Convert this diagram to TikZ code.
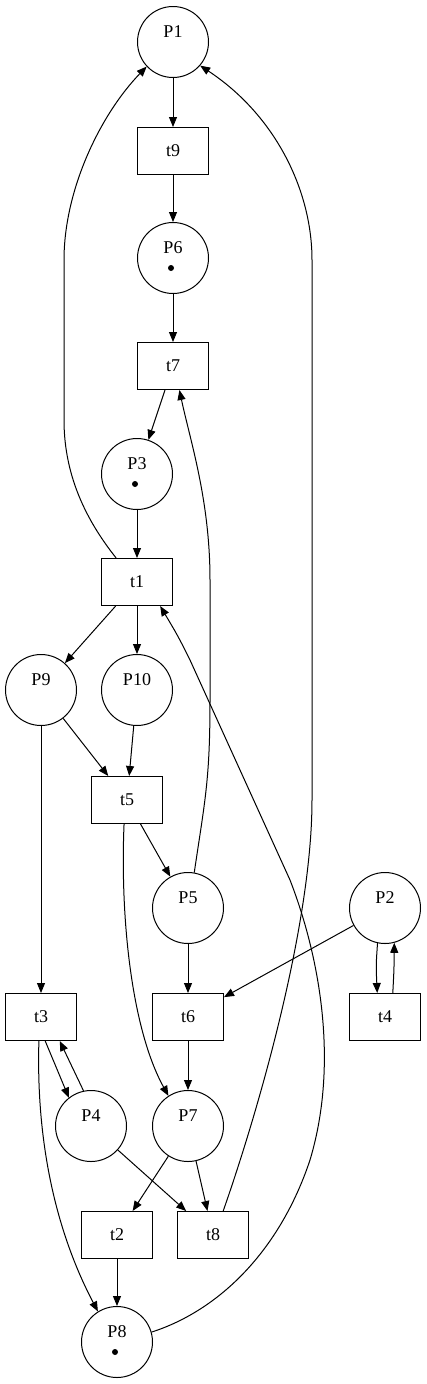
\documentclass[tikz,border=0pt]{standalone}
\usepackage{fontspec}
\setmainfont{Liberation Serif}
\usetikzlibrary{arrows.meta}
\tikzset{
	place/.style={circle, draw, line width=1pt, minimum size=71pt, inner sep=0pt},
	trans/.style={rectangle, draw, line width=1pt, minimum width=71pt, minimum height=47pt, inner sep=0pt},
	arc/.style={line width=1pt, -{Triangle[length=10pt,width=8pt]}}
}
\def\lbl#1{\raisebox{5pt}[0pt][0pt]{#1}}
\def\token(#1){\fill ([xshift=-2pt,yshift=-10pt]#1) circle (3pt);}

\begin{document}
\begin{tikzpicture}[x=1pt, y=-1pt, font=\fontsize{18}{21}\selectfont]
				\useasboundingbox (0,0) rectangle (427,1384);
				
				\node[place] (P1) at (173,42) {\lbl{P1}};
				\node[trans] (t9) at (173,151) {t9};
				\node[place] (P6) at (173,258) {\lbl{P6}};
				\node[trans] (t7) at (173,366) {t7};
				\node[place] (P3) at (137,474) {\lbl{P3}};
				\node[trans] (t1) at (137,582) {t1};
				\node[place] (P9) at (41,690) {\lbl{P9}};
				\node[place] (P10) at (137,690) {\lbl{P10}};
				\node[trans] (t5) at (127,800) {t5};
				\node[place] (P5) at (188,908) {\lbl{P5}};
				\node[place] (P2) at (385,908) {\lbl{P2}};
				\node[trans] (t3) at (41,1017) {t3};
				\node[trans] (t6) at (188,1017) {t6};
				\node[trans] (t4) at (385,1017) {t4};
				\node[place] (P4) at (91,1126) {\lbl{P4}};
				\node[place] (P7) at (188,1126) {\lbl{P7}};
				\node[trans] (t2) at (117,1235) {t2};
				\node[trans] (t8) at (213,1235) {t8};
				\node[place] (P8) at (117,1342) {\lbl{P8}};
				
				\token(P6)
				\token(P3)
				\token(P8)
				
				\draw[arc] (P1) -- (t9);
				\draw[arc] (t9) -- (P6);
				\draw[arc] (P6) -- (t7);
				\draw[arc] (t7) -- (P3);
				\draw[arc] (P3) -- (t1);
				\draw[arc] (t1) -- (P9);
				\draw[arc] (t1) -- (P10);
				\draw[arc] (P9) -- (t5);
				\draw[arc] (P10) -- (t5);
				\draw[arc] (P9) -- (t3);
				\draw[arc] (t5) -- (P5);
				\draw[arc] (P5) -- (t6);
				\draw[arc] (P2) -- (t6);
				\draw[arc] (P2.-102) .. controls (376,965) .. (t4.108);
				\draw[arc] (t4.72) .. controls (394,970) .. (P2.-75);
				\draw[arc] (t6) -- (P7);
				\draw[arc] (t3.-80) -- (P4.128);
				\draw[arc] (P4.102) -- (t3.-52);
				\draw[arc] (P4) -- (t8);
				\draw[arc] (P7) -- (t2);
				\draw[arc] (P7) -- (t8);
				\draw[arc] (t2) -- (P8);
				
				\draw[arc] (t1.131) .. controls (90,525) and (64,480) .. (64,420) -- (64,260) .. controls (64,190) and (100,115) .. (P1.-137);
				\draw[arc] (t8.67) .. controls (262,1100) and (312,920) .. (312,800) -- (312,260) .. controls (312,190) and (275,115) .. (P1.-41);
				\draw[arc] (P5.80) .. controls (205,800) and (210,780) .. (210,700) -- (210,580) .. controls (210,500) and (190,440) .. (t7.-75);
				\draw[arc] (t5.-97) .. controls (120,920) and (132,1030) .. (P7.123);
				\draw[arc] (t3.-95) .. controls (36,1140) and (55,1230) .. (P8.122);
				\draw[arc] (P8.16) .. controls (220,1310) and (280,1250) .. (310,1160) .. controls (340,1060) and (318,952) .. (290,880) -- (190,660) .. controls (178,636) .. (t1.-46);
			\end{tikzpicture}
\end{document}
